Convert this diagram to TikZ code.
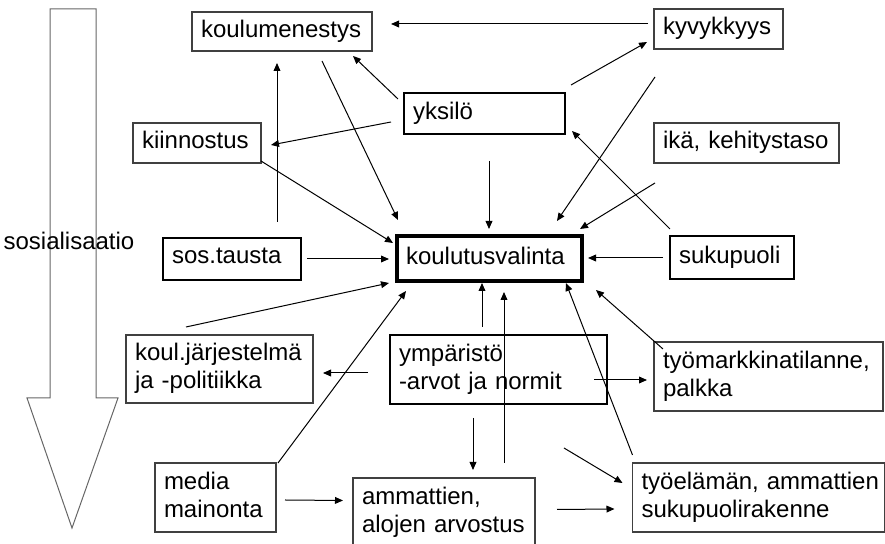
\documentclass[tikz,border=0pt]{standalone}
\usepackage{fontspec}
\setmainfont{Liberation Sans}
\usetikzlibrary{arrows.meta}
\newcommand\tekstikoko{\fontsize{12}{14}\selectfont\hyphenpenalty 10000\relax}
\newcommand\tuki{\rule[-3pt]{0pt}{10.5pt}}

\begin{document}
\begin{tikzpicture}[x=0.5pt, y=-0.5pt,
        every node/.style={font=\tekstikoko},
        laatikko/.style={draw=black!75, line width=0.6pt, inner xsep=4.5pt, inner ysep=0pt,
          outer sep=0pt, align=left, minimum height=20pt,
          execute at begin node=\tuki, execute at end node=\tuki},
        vahva/.style={laatikko, draw=black, line width=1.3pt},
        nuoli/.style={-{Triangle[length=4pt,width=3.4pt]}, line width=0.5pt}]
        \useasboundingbox (0,0) rectangle (885,544);
        \clip (0,0) rectangle (885,544);

        \draw[black!60, line width=0.5pt] (50,9) -- (96,9) -- (96,398) -- (118,398)
          -- (72,528) -- (27,398) -- (50,398) -- cycle;
        \node (sos) at (69,241) {sosialisaatio};

        \node[laatikko, text width=81pt, minimum height=19.5pt] (menestys) at (282,31.5) {koulumenestys};
        \node[laatikko, text width=55.5pt] (kyky) at (718.5,29) {kyvykkyys};
        \node[vahva, text width=71.5pt, minimum height=20.5pt] (yksilo) at (484.5,113.5) {yksilö};
        \node[laatikko, text width=55pt] (kiinnostus) at (197,143) {kiinnostus};
        \node[laatikko, text width=83.5pt] (ika) at (746.5,143) {ikä, kehitystaso};
        \node[vahva, text width=60pt, minimum height=21pt] (tausta) at (232,259) {sos.tausta};
        \node[vahva, line width=2.3pt, text width=83.5pt, minimum height=22.5pt] (valinta) at (489.5,258.5) {koulutusvalinta};
        \node[vahva, text width=53pt, minimum height=21.5pt] (sukupuoli) at (732,257.5) {sukupuoli};
        \node[laatikko, text width=84.5pt, minimum height=34pt] (jarjestelma) at (219.5,369) {koul.järjestelmä\\ja -politiikka};
        \node[vahva, text width=99.5pt, minimum height=34.5pt] (ymparisto) at (498.5,369.5) {ympäristö\\-arvot ja normit};
        \node[laatikko, text width=105.5pt, minimum height=34.5pt] (tyomarkkina) at (768.5,376.5) {työmarkkinatilanne,\\palkka};
        \node[laatikko, text width=51.5pt, minimum height=34.5pt] (media) at (215.5,497.5) {media\\mainonta};
        \node[laatikko, text width=82pt, minimum height=35pt] (arvostus) at (444,513) {ammattien,\\alojen arvostus};
        \node[laatikko, text width=117pt, minimum height=34.5pt] (rakenne) at (758.5,497.5) {työelämän,~ammattien\\sukupuolirakenne};

        \draw[nuoli] ([shift={(-6,-5)}]kyky.west) -- ([shift={(19,-7.5)}]menestys.east);
        \draw[nuoli] ([shift={(-6,6)}]yksilo.north west) -- ([shift={(-19,5)}]menestys.south east);
        \draw[nuoli] ([shift={(40,10)}]menestys.south) -- ([shift={(1,-16)}]valinta.north west);
        \draw[nuoli] ([shift={(-13,8.5)}]yksilo.west) -- ([shift={(10,2)}]kiinnostus.east);
        \draw[nuoli] ([shift={(45,-16)}]tausta.north) -- ([shift={(-5,12)}]menestys.south);
        \draw[nuoli] ([shift={(0,-2)}]kiinnostus.south east) -- ([shift={(-4,-15.5)}]valinta.west);
        \draw[nuoli] ([shift={(6,0)}]tausta.east) -- ([shift={(-8,0.5)}]valinta.west);
        \draw[nuoli] ([shift={(6,-8)}]yksilo.north east) -- ([shift={(-7,13)}]kyky.west);
        \draw[nuoli] ([shift={(1,28)}]kyky.south west) -- ([shift={(67.5,-15)}]valinta.north);
        \draw[nuoli] ([shift={(0,-7)}]sukupuoli.north west) -- ([shift={(7,-3)}]yksilo.south east);
        \draw[nuoli] ([shift={(1,20)}]ika.south west) -- ([shift={(-2,-7)}]valinta.north east);
        \draw[nuoli] ([shift={(4.5,27)}]yksilo.south) -- ([shift={(-0.5,-7)}]valinta.north);
        \draw[nuoli] ([shift={(-7,0.5)}]sukupuoli.west) -- ([shift={(6,-0.5)}]valinta.east);

        \draw[nuoli] ([shift={(-33.5,-8)}]jarjestelma.north) -- ([shift={(-8,2)}]valinta.south west);
        \draw[nuoli] ([shift={(2,0)}]media.north east) -- ([shift={(9,10)}]valinta.south west);
        \draw[nuoli] ([shift={(-22,3.5)}]ymparisto.west) -- ([shift={(10,4)}]jarjestelma.east);
        \draw[nuoli] ([shift={(9,2.5)}]media.east) -- ([shift={(-10,-12.5)}]arvostus.west);
        \draw[nuoli] ([shift={(-16.5,-8)}]ymparisto.north) -- ([shift={(-7.5,2)}]valinta.south);
        \draw[nuoli] ([shift={(60,-15)}]arvostus.north) -- ([shift={(14.5,11)}]valinta.south);
        \draw[nuoli] ([shift={(0,-8)}]rakenne.north west) -- ([shift={(-16,2)}]valinta.south east);
        \draw[nuoli] ([shift={(9,7)}]tyomarkkina.north west) -- ([shift={(14,9)}]valinta.south east);
        \draw[nuoli] ([shift={(-13,10.5)}]ymparisto.east) -- ([shift={(-7,3.5)}]tyomarkkina.west);
        \draw[nuoli] ([shift={(-25.5,14)}]ymparisto.south) -- ([shift={(29,-8)}]arvostus.north);
        \draw[nuoli] ([shift={(-43,44)}]ymparisto.south east) -- ([shift={(-10,-14.5)}]rakenne.west);
        \draw[nuoli] ([shift={(22,-3.5)}]arvostus.east) -- ([shift={(-18,11.5)}]rakenne.west);
      \end{tikzpicture}
\end{document}
